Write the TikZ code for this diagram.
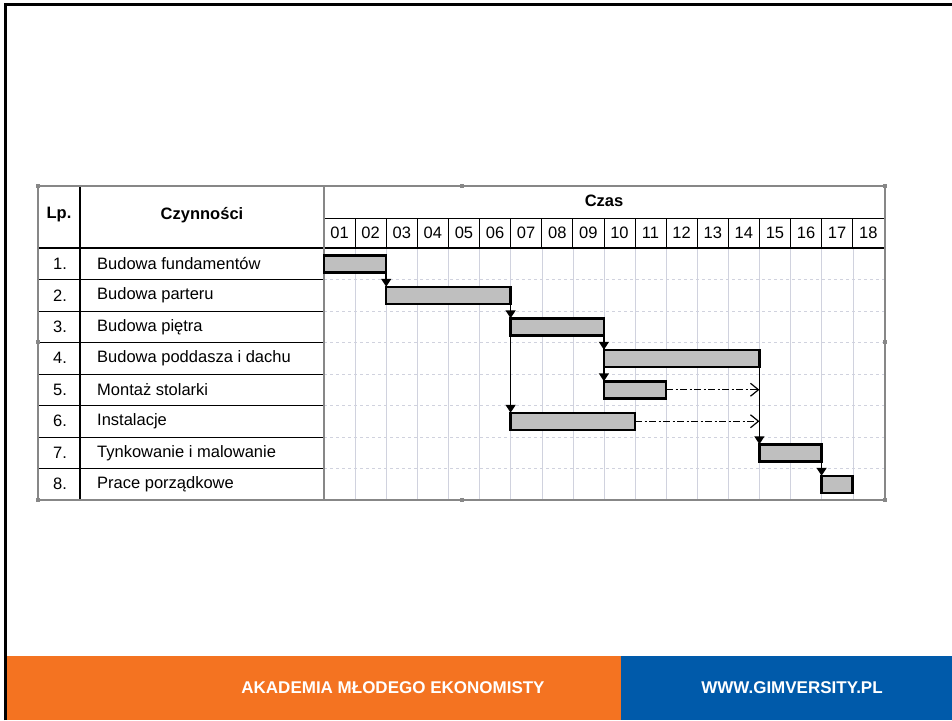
\documentclass[tikz,border=0pt]{standalone}
\usepackage{fontspec}
\setmainfont{Liberation Sans}
\usetikzlibrary{positioning}
\usetikzlibrary{arrows.meta}
\usetikzlibrary{calc}
\definecolor{akmorange}{RGB}{244,115,33}
\definecolor{gimblue}{RGB}{0,90,170}
\definecolor{gridgray}{RGB}{208,210,222}
\definecolor{framegray}{RGB}{135,135,135}
\tikzset{>={Triangle[width=10pt,length=8pt]}}
\tikzset{bar/.style={draw,fill=black!25,line width=2.5pt,minimum height=17pt,inner sep=0pt,outer sep=0pt,anchor=west}}
\tikzset{cell/.style={inner sep=1pt,font=\fontsize{16.5}{18}\selectfont}}
\tikzset{head/.style={inner sep=1pt,font=\fontsize{16.5}{18}\selectfont\bfseries}}
\tikzset{dep/.style={->,line width=1.5pt}}
\tikzset{late/.style={-{Straight Barb[width=13pt,length=8pt]},line width=1.2pt,dash pattern=on 7pt off 2.5pt on 2pt off 2.5pt}}
\tikzset{handle/.style={fill=framegray,minimum size=4pt,inner sep=0pt}}
\tikzset{foot/.style={text=white,font=\fontsize{17}{20}\selectfont\bfseries}}

\begin{document}
\begin{tikzpicture}[x=1pt,y=-1pt]
\useasboundingbox (0,0) rectangle (952,720);

% slide frame and footer
\draw[line width=3pt] (5.5,720) -- (5.5,4.5) -- (952,4.5);
\fill[akmorange] (7,656) rectangle (621,720);
\fill[gimblue] (621,656) rectangle (952,720);
\node[foot] (akm) at (393,688) {AKADEMIA MŁODEGO EKONOMISTY};
\node[foot] (www) at (792,688) {WWW.GIMVERSITY.PL};

% grid of the time area
\foreach \i in {1,...,17}
  \draw[gridgray] ({324+\i*31.1},248) -- ({324+\i*31.1},500);
\foreach \j in {1,...,7}
  \draw[gridgray,dashed] (324,{248+\j*31.5}) -- (885,{248+\j*31.5});

% table lines
\foreach \j in {1,...,7}
  \draw[semithick] (38,{248+\j*31.5}) -- (324,{248+\j*31.5});
\draw[thick] (324,218) -- (885,218);
\foreach \i in {1,...,17}
  \draw[thick] ({324+\i*31.1},218) -- ({324+\i*31.1},248);
\draw[line width=1.5pt] (80,186) -- (80,500);
\draw[line width=2pt] (38,248) -- (885,248);
\draw[framegray,line width=1.5pt] (38,186) rectangle (885,500);
\draw[framegray,line width=1.2pt] (324,186) -- (324,500);

% header
\node[head] (lp) at (59,215) {Lp.};
\node[head] (task) at (202,215) {Czynności};
\node[head] (czas) at (604,201) {Czas};
\foreach \i in {1,...,18}
  \node[cell] (t\i) at ({324+(\i-0.5)*31.1},233) {\ifnum\i<10 0\fi\i};

% rows
\foreach \j/\txt in {1/Budowa fundamentów, 2/Budowa parteru, 3/Budowa piętra,
    4/Budowa poddasza i dachu, 5/Montaż stolarki, 6/Instalacje,
    7/Tynkowanie i malowanie, 8/Prace porządkowe} {
  \node[cell] (n\j) at (60,{248+(\j-0.5)*31.5}) {\j.};
  \node[cell,anchor=west] (r\j) at (96,{248+(\j-0.5)*31.5}) {\txt};
}

% bars: row/start/length
\foreach \j/\s/\l in {1/0/2, 2/2/4, 3/6/3, 4/9/5, 5/9/2, 6/6/4, 7/14/2, 8/16/1}
  \node[bar,minimum width=\l*31.1] (b\j) at ({324+\s*31.1},{248+(\j-0.5)*31.5}) {};

\draw[dep] (b1.south east) -- (b2.north west);
\draw[dep] (b2.south east) -- (b3.north west);
\draw[dep] (b2.south east) -- (b6.north west);
\draw[dep] (b3.south east) -- (b4.north west);
\draw[dep] (b3.south east) -- (b5.north west);
\draw[dep] (b4.south east) -- (b7.north west);
\draw[dep] (b7.south east) -- (b8.north west);
\draw[late] (b5.east) -- (b5.east -| b4.east);
\draw[late] (b6.east) -- (b6.east -| b4.east);

% handles
\foreach \x/\y [count=\k] in {38/186, 462/186, 885/186, 38/342, 885/342, 38/500, 462/500, 885/500}
  \node[handle] (h\k) at (\x,\y) {};
\end{tikzpicture}
\end{document}
